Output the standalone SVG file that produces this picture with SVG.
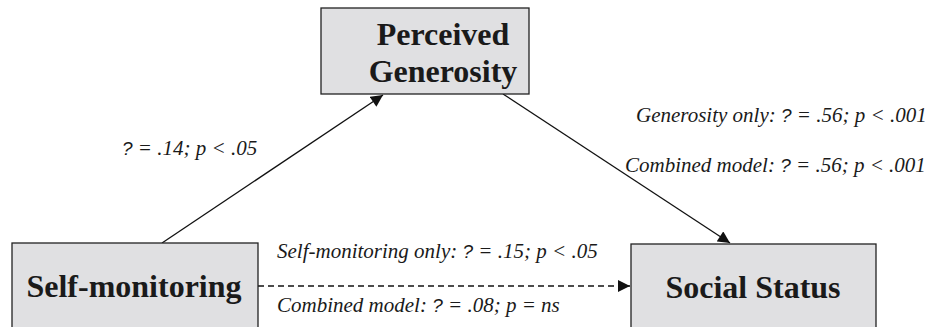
<svg xmlns="http://www.w3.org/2000/svg" width="941" height="327" viewBox="0 0 941 327">
<style>
.box{fill:#e0e0e2;stroke:#222;stroke-width:1.3}
.title{font-weight:bold;font-size:32px;fill:#1a1a1a;text-anchor:middle}
.lbl{font-style:italic;font-size:21px;fill:#1a1a1a}
.q{font-family:'Liberation Sans',Arial,sans-serif;font-style:italic;font-size:19px}
.edge{stroke:#111;stroke-width:1.3;fill:none}
</style>
<defs>
<marker id="ah" viewBox="0 0 10 10" refX="10" refY="5" markerWidth="13" markerHeight="12" markerUnits="userSpaceOnUse" orient="auto">
<path d="M0,0 L10,5 L0,10 z" fill="#111"/>
</marker>
</defs>
<rect width="941" height="327" fill="#fff"/>
<g id="connectors">
<line class="edge" x1="162" y1="243" x2="383" y2="95" marker-end="url(#ah)"/>
<line class="edge" x1="503" y1="94" x2="730" y2="243" marker-end="url(#ah)"/>
<line class="edge" x1="258" y1="286" x2="630" y2="286" stroke-dasharray="6,4" marker-end="url(#ah)"/>
</g>
<g id="perceived-generosity" font-family="Liberation Serif, Times New Roman, serif">
<rect class="box" x="321" y="8" width="208" height="86"/>
<text class="title" x="443" y="45">Perceived</text>
<text class="title" x="443" y="82">Generosity</text>
</g>
<g id="self-monitoring" font-family="Liberation Serif, Times New Roman, serif">
<rect class="box" x="12" y="243" width="246" height="100"/>
<text class="title" x="134" y="297">Self-monitoring</text>
</g>
<g id="social-status" font-family="Liberation Serif, Times New Roman, serif">
<rect class="box" x="631" y="244" width="245" height="100"/>
<text class="title" x="753" y="298">Social Status</text>
</g>
<g id="labels" font-family="Liberation Serif, Times New Roman, serif">
<text class="lbl" x="122" y="155"><tspan class="q">?</tspan> = .14; p &lt; .05</text>
<text class="lbl" x="636" y="122">Generosity only: <tspan class="q">?</tspan> = .56; p &lt; .001</text>
<text class="lbl" x="625" y="172">Combined model: <tspan class="q">?</tspan> = .56; p &lt; .001</text>
<text class="lbl" x="277" y="258">Self-monitoring only: <tspan class="q">?</tspan> = .15; p &lt; .05</text>
<text class="lbl" x="277" y="312">Combined model: <tspan class="q">?</tspan> = .08; p = ns</text>
</g>
</svg>
